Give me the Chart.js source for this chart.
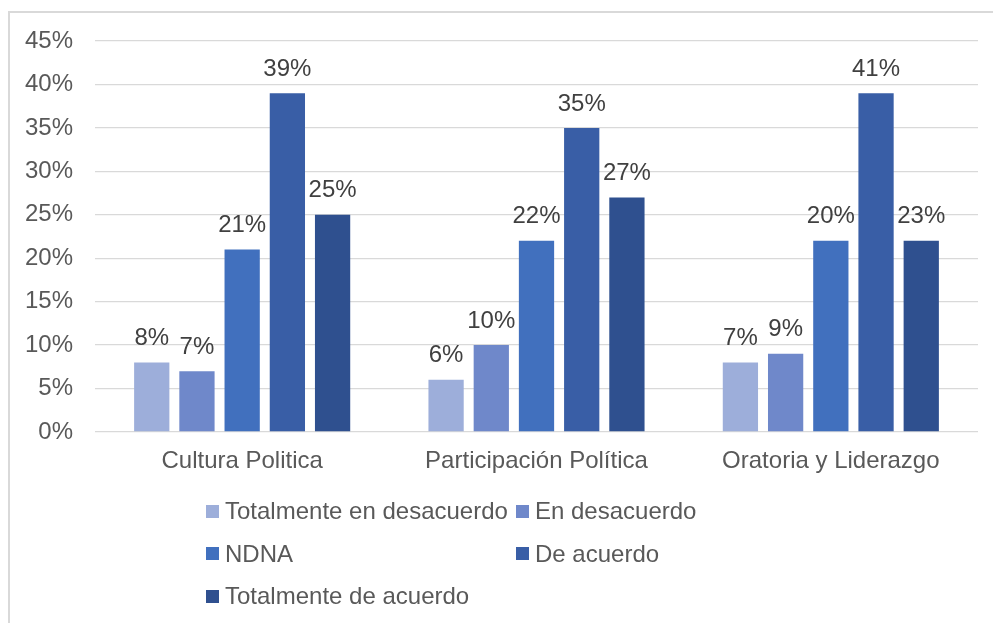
<!DOCTYPE html>
<html><head><meta charset="utf-8">
<script src="https://cdn.jsdelivr.net/npm/chart.js@4"></script>
<style>
html,body{margin:0;padding:0;width:993px;height:623px;overflow:hidden;background:#fff;font-family:"Liberation Sans",Arial,sans-serif;}
#frame{position:absolute;left:8px;top:11px;width:1100px;height:700px;border:2px solid #d9d9d9;box-sizing:border-box;}
#wrap{position:absolute;left:0;top:0;width:993px;height:623px;}
#legend{position:absolute;left:0;top:0;width:0;height:0;}
.item{position:absolute;display:flex;align-items:center;font-size:24px;line-height:28px;color:#595959;white-space:nowrap;transform:translateY(-50%);}
.box{width:13px;height:13px;margin-right:6px;flex:none;}
</style></head>
<body>
<div id="frame"></div>
<div id="wrap"><canvas id="c"></canvas></div>
<div id="legend"></div>
<script>
const categories = ['Cultura Politica', 'Participación Política', 'Oratoria y Liderazgo'];
const seriesNames = ['Totalmente en desacuerdo', 'En desacuerdo', 'NDNA', 'De acuerdo', 'Totalmente de acuerdo'];
const totDesacuerdo = [8, 6, 8];
const enDesacuerdo = [7, 10, 9];
const ndna = [21, 22, 22];
const deAcuerdo = [39, 35, 39];
const totAcuerdo = [25, 27, 22];
// data labels as printed in the original chart
const lblTotDesacuerdo = ['8%', '6%', '7%'];
const lblEnDesacuerdo = ['7%', '10%', '9%'];
const lblNdna = ['21%', '22%', '20%'];
const lblDeAcuerdo = ['39%', '35%', '41%'];
const lblTotAcuerdo = ['25%', '27%', '23%'];
const yTickValues = [0, 5, 10, 15, 20, 25, 30, 35, 40, 45];
const seriesColors = ['#9DAEDA', '#6F88CA', '#4170BE', '#395EA6', '#2F508F'];

const seriesValues = [totDesacuerdo, enDesacuerdo, ndna, deAcuerdo, totAcuerdo];
const seriesLabels = [lblTotDesacuerdo, lblEnDesacuerdo, lblNdna, lblDeAcuerdo, lblTotAcuerdo];
const FONT = '"Liberation Sans", Arial, sans-serif';

const dataLabelPlugin = {
  id: 'dataLabels',
  afterDatasetsDraw(chart) {
    const ctx = chart.ctx;
    ctx.save();
    ctx.font = '24px ' + FONT;
    ctx.fillStyle = '#404040';
    ctx.textAlign = 'center';
    ctx.textBaseline = 'middle';
    chart.data.datasets.forEach((ds, d) => {
      const meta = chart.getDatasetMeta(d);
      meta.data.forEach((el, i) => {
        ctx.fillText(seriesLabels[d][i], el.x, el.y - 24);
      });
    });
    ctx.restore();
  }
};

new Chart(document.getElementById('c'), {
  type: 'bar',
  data: {
    labels: categories,
    datasets: seriesNames.map((n, k) => ({
      label: n,
      data: seriesValues[k],
      backgroundColor: seriesColors[k],
      categoryPercentage: 0.768,
      barPercentage: 0.78
    }))
  },
  options: {
    responsive: true,
    maintainAspectRatio: false,
    animation: false,
    layout: { padding: { left: 0, top: 41, right: 15, bottom: 131 } },
    plugins: { legend: { display: false }, tooltip: { enabled: false } },
    scales: {
      x: {
        grid: { display: false },
        border: { display: false },
        ticks: { color: '#595959', font: { size: 24, family: FONT }, padding: 7, maxRotation: 0 },
        afterFit(s) { s.height = 60; }
      },
      y: {
        min: 0, max: 45,
        afterBuildTicks(s) { s.ticks = yTickValues.map(v => ({ value: v })); },
        grid: { color: '#d9d9d9', lineWidth: 1.3, drawTicks: false },
        border: { display: false },
        ticks: { color: '#595959', font: { size: 24, family: FONT }, padding: 22, callback: v => v + '%' },
        afterFit(s) { s.width = 95; }
      }
    }
  },
  plugins: [dataLabelPlugin]
});

const legend = document.getElementById('legend');
seriesNames.forEach((n, k) => {
  const it = document.createElement('div');
  it.className = 'item';
  it.style.left = (k % 2 === 0 ? 206 : 516) + 'px';
  it.style.top = (511 + Math.floor(k / 2) * 42.5) + 'px';
  const b = document.createElement('span');
  b.className = 'box';
  b.style.background = seriesColors[k];
  const t = document.createElement('span');
  t.textContent = n;
  it.appendChild(b); it.appendChild(t);
  legend.appendChild(it);
});
</script>
</body></html>
